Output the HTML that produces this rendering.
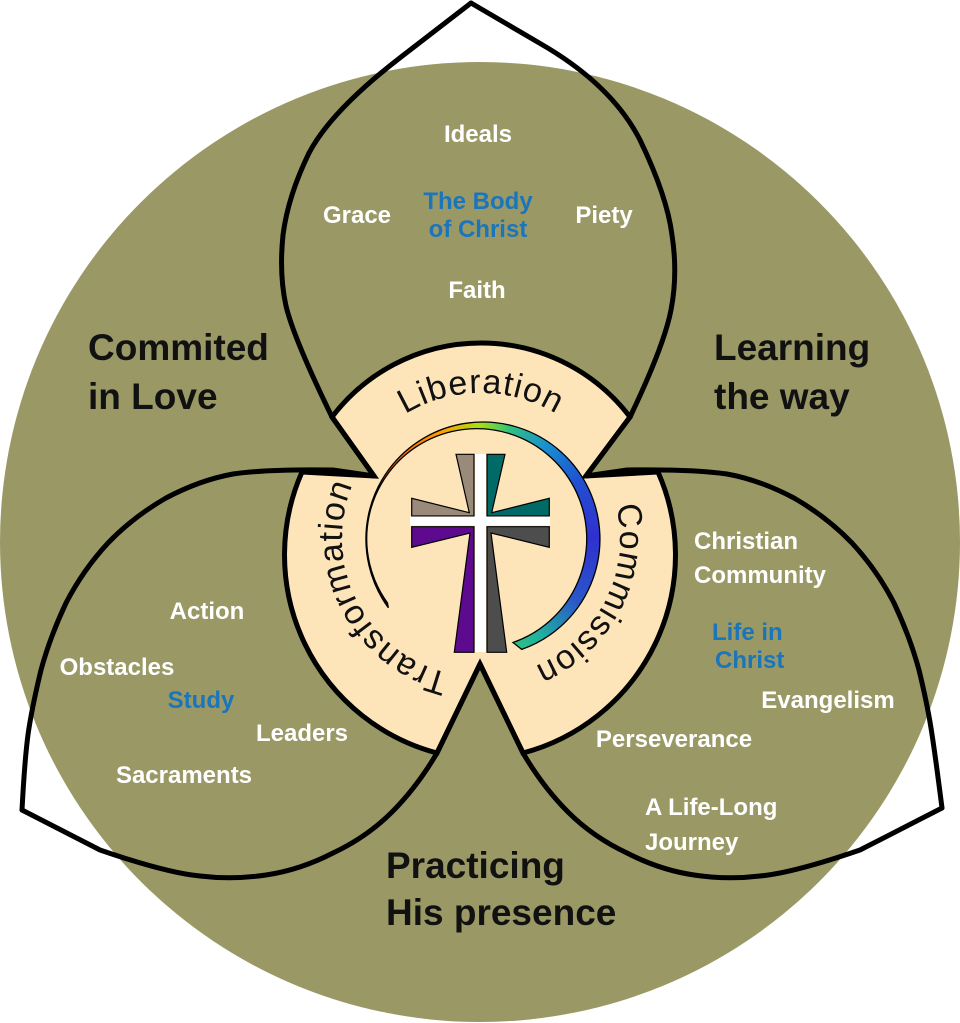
<!DOCTYPE html>
<html><head><meta charset="utf-8"><style>
html,body{margin:0;padding:0;background:#fff;width:960px;height:1023px;overflow:hidden}
.wrap{position:relative;width:960px;height:1023px}
svg{position:absolute;left:0;top:0}
.ring{position:absolute;left:0;top:0;width:960px;height:1023px;
background:conic-gradient(from 234deg at 483px 539px,#111 0deg,#500 22deg,#e02000 40deg,#ff5a00 75deg,#ffa000 105deg,#a8e010 124deg,#30c080 140deg,#1890d0 160deg,#2050d0 185deg,#3030d0 215deg,#2a58c8 250deg,#20b0a0 275deg,#30c080 290deg,#30c080 360deg);
clip-path:path('M388.3,607.8 A117,117 0 1 1 521.7,649.4 L513,642.5 A110,110 0 1 0 387.5,603 Z')}
.w{fill:#fff;font-family:"Liberation Sans",sans-serif;font-weight:bold;font-size:24px}
.b{fill:#1a75bb;font-family:"Liberation Sans",sans-serif;font-weight:bold;font-size:24px}
.k{fill:#111;font-family:"Liberation Sans",sans-serif;font-weight:bold;font-size:37px}
.r{fill:#111;font-family:"Liberation Sans",sans-serif;font-size:34px;letter-spacing:1px}
</style></head><body><div class="wrap">
<svg width="960" height="1023" viewBox="0 0 960 1023">
<defs>
<path id="c1" d="M481,685 A146,146 0 1 1 481,393 A146,146 0 1 1 481,685"/>
<path id="c2" d="M481,677 A139,139 0 1 1 481,399 A139,139 0 1 1 481,677"/>
</defs>
<circle cx="480" cy="542" r="480" fill="#9a9966"/>
<path d="M480,664 L437,753 A205,205 0 0 1 302,472 L374,476 L332,417 A187,187 0 0 1 630,417 L586,476 L658,472 A205,205 0 0 1 523,753 Z" fill="#fde5b9" stroke="#000" stroke-width="5" stroke-linejoin="miter"/>
<g fill="none" stroke="#000" stroke-width="5" stroke-linejoin="round" stroke-linecap="round">
<path d="M374,476 L332,417 Q294,339 286,306 Q279,274 283,235 Q288,196 309,153 Q331,111 401,57 L471,3"/>
<path d="M586,476 L630,417 Q664,346 671,310 Q678,274 672,235 Q667,196 640,140 Q612,85 541,44 L471,3"/>
<path d="M374,476 L333,470 Q267,469 233,474 Q200,480 166,498 Q133,517 108,543 Q83,570 66,603 Q50,637 41,670 Q33,703 29,728 Q25,753 22,810"/>
<path d="M22,810 L100,850 Q167,873 200,876 Q233,880 266,875 Q300,870 333,853 Q367,837 392,812 Q417,787 437,753 L480,664"/>
<path d="M586,476 L627,470 Q693,469 727,474 Q760,480 794,498 Q827,517 852,543 Q877,570 894,603 Q910,637 919,670 Q927,703 931,728 Q935,753 942,808"/>
<path d="M942,808 L860,850 Q793,873 760,876 Q727,880 694,875 Q660,870 627,853 Q593,837 568,812 Q543,787 523,753 L480,664"/>
</g>
<text class="r"><textPath href="#c1" startOffset="50%" text-anchor="middle">Liberation</textPath></text>
<text class="r"><textPath href="#c2" startOffset="82.5%" text-anchor="middle">Commission</textPath></text>
<text class="r"><textPath href="#c2" startOffset="17.5%" text-anchor="middle">Transformation</textPath></text>
<text class="w" x="478" y="142" text-anchor="middle">Ideals</text>
<text class="w" x="357" y="223" text-anchor="middle">Grace</text>
<text class="b" x="478" y="209" text-anchor="middle">The Body</text>
<text class="b" x="478" y="237" text-anchor="middle">of Christ</text>
<text class="w" x="604" y="223" text-anchor="middle">Piety</text>
<text class="w" x="477" y="298" text-anchor="middle">Faith</text>
<text class="k" x="88" y="360">Commited</text>
<text class="k" x="88" y="409">in Love</text>
<text class="k" x="714" y="360">Learning</text>
<text class="k" x="714" y="409">the way</text>
<text class="k" x="386" y="878">Practicing</text>
<text class="k" x="386" y="925">His presence</text>
<text class="w" x="207" y="619" text-anchor="middle">Action</text>
<text class="w" x="117" y="675" text-anchor="middle">Obstacles</text>
<text class="b" x="201" y="708" text-anchor="middle">Study</text>
<text class="w" x="302" y="741" text-anchor="middle">Leaders</text>
<text class="w" x="184" y="783" text-anchor="middle">Sacraments</text>
<text class="w" x="694" y="549">Christian</text>
<text class="w" x="694" y="583">Community</text>
<text class="b" x="712" y="640">Life in</text>
<text class="b" x="715" y="668">Christ</text>
<text class="w" x="828" y="708" text-anchor="middle">Evangelism</text>
<text class="w" x="674" y="747" text-anchor="middle">Perseverance</text>
<text class="w" x="645" y="815">A Life-Long</text>
<text class="w" x="645" y="850">Journey</text>
</svg>
<div class="ring"></div>
<svg width="960" height="1023" viewBox="0 0 960 1023">
<path d="M388.3,607.8 A117,117 0 1 1 521.7,649.4 L513,642.5 A110,110 0 1 0 387.5,603 Z" fill="none" stroke="#000" stroke-width="1.3"/>
<g stroke="#000" stroke-width="1.2" stroke-linejoin="miter">
<polygon points="456,454.3 474,454.3 474,516 411.7,516 411.7,498.3 469.3,512.7" fill="#9a8a7a"/>
<polygon points="505,454.3 487,454.3 487,516 549.3,516 549.3,498.3 491.7,512.7" fill="#006b66"/>
<polygon points="411.7,526.7 474,526.7 474,652.3 454.3,652.3 470,533 411.7,547.3" fill="#5e0a8f"/>
<polygon points="549.3,526.7 487,526.7 487,652.3 506.7,652.3 491,533 549.3,547.3" fill="#4d4d4d"/>
</g>
<rect x="475" y="454" width="11" height="198" fill="#fff"/>
<rect x="410" y="516.5" width="140" height="9" fill="#fff"/>
</svg>
</div></body></html>
